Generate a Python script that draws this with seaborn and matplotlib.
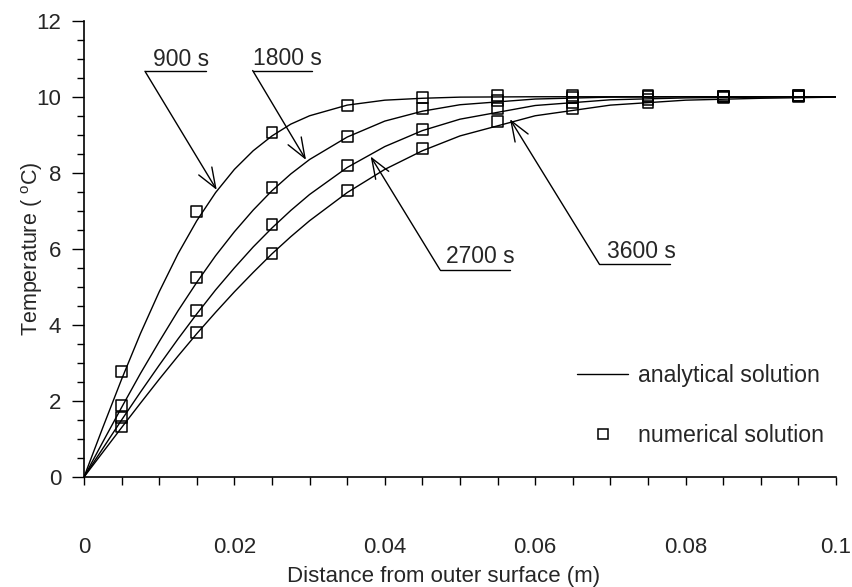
import numpy as np
import pandas as pd
import matplotlib
matplotlib.use("Agg")
import matplotlib.pyplot as plt
from matplotlib.lines import Line2D
from matplotlib.ticker import MultipleLocator, FixedLocator, FixedFormatter
import seaborn as sns

# Temperature profiles in a slab cooled at its outer surface
times = ["900 s", "1800 s", "2700 s", "3600 s"]

# analytical solution, sampled along the depth
x_curve = [0, 0.0025, 0.005, 0.0075, 0.01, 0.0125, 0.015, 0.0175, 0.02, 0.0225,
           0.025, 0.0275, 0.03, 0.035, 0.04, 0.045, 0.05, 0.06, 0.07, 0.08, 0.09, 0.1]
t900 = [0, 1.30, 2.57, 3.77, 4.87, 5.87, 6.74, 7.48, 8.09, 8.58, 8.97, 9.28, 9.50,
        9.78, 9.91, 9.96, 9.99, 10.0, 10.0, 10.0, 10.0, 10.0]
t1800 = [0, 0.92, 1.83, 2.72, 3.56, 4.37, 5.12, 5.82, 6.45, 7.02, 7.53, 7.97, 8.35,
         8.94, 9.36, 9.62, 9.79, 9.94, 9.99, 10.0, 10.0, 10.0]
t2700 = [0, 0.75, 1.50, 2.23, 2.94, 3.63, 4.29, 4.92, 5.50, 6.05, 6.55, 7.01, 7.43,
         8.14, 8.69, 9.11, 9.41, 9.77, 9.92, 9.97, 9.99, 10.0]
t3600 = [0, 0.65, 1.30, 1.94, 2.57, 3.18, 3.77, 4.33, 4.87, 5.38, 5.87, 6.32, 6.74,
         7.48, 8.09, 8.58, 8.97, 9.50, 9.78, 9.91, 9.96, 9.99]

# numerical solution at the cell centres
x_num = [0.005, 0.015, 0.025, 0.035, 0.045, 0.055, 0.065, 0.075, 0.085, 0.095]
n900 = [2.77, 6.98, 9.06, 9.77, 9.99, 10.04, 10.04, 10.04, 10.02, 10.03]
n1800 = [1.89, 5.25, 7.62, 8.96, 9.68, 9.90, 9.97, 10.00, 10.00, 10.03]
n2700 = [1.56, 4.37, 6.63, 8.18, 9.13, 9.70, 9.85, 9.93, 10.00, 10.02]
n3600 = [1.34, 3.81, 5.89, 7.53, 8.63, 9.35, 9.68, 9.85, 9.97, 10.00]

x_ticks = [0, 0.02, 0.04, 0.06, 0.08, 0.1]
x_tick_labels = ["0", "0.02", "0.04", "0.06", "0.08", "0.1"]
y_ticks = [0, 2, 4, 6, 8, 10, 12]

# callouts: label, arrow tip (x, T), leader start (x, T), underline end x, text anchor
callouts = [
    ("900 s", (0.01765, 7.55), (0.00811, 10.67), 0.01622, (0.00918, 10.80)),
    ("1800 s", (0.02952, 8.34), (0.02243, 10.69), 0.03028, (0.02251, 10.84)),
    ("2700 s", (0.03812, 8.43), (0.04734, 5.45), 0.05665, (0.04810, 5.62)),
    ("3600 s", (0.05665, 9.41), (0.06852, 5.60), 0.07793, (0.06950, 5.75)),
]

curves = pd.DataFrame({
    "x": np.tile(x_curve, 4),
    "T": np.concatenate([t900, t1800, t2700, t3600]),
    "time": np.repeat(times, len(x_curve)),
})
points = pd.DataFrame({
    "x": np.tile(x_num, 4),
    "T": np.concatenate([n900, n1800, n2700, n3600]),
    "time": np.repeat(times, len(x_num)),
})

sns.set_style("ticks")
plt.rcParams["font.family"] = ["Liberation Sans", "DejaVu Sans"]
plt.rcParams["mathtext.fontset"] = "custom"
plt.rcParams["mathtext.rm"] = "Liberation Sans"
plt.rcParams["mathtext.it"] = "Liberation Sans"

fig = plt.figure(figsize=(8.53, 5.87), dpi=100)
ax = fig.add_axes([84 / 853, 1 - 477 / 587, 752 / 853, 456.3 / 587])

sns.lineplot(data=curves, x="x", y="T", hue="time",
             palette={t: "black" for t in times}, estimator=None, sort=False,
             linewidth=1.0, legend=False, ax=ax)
sns.scatterplot(data=points, x="x", y="T", marker="s", s=62, color="black",
                linewidth=1.1, legend=False, ax=ax, zorder=3)
for coll in ax.collections:
    coll.set_facecolor("none")
    coll.set_edgecolor("black")

for label, tip, start, end_x, txt in callouts:
    ax.annotate("", xy=tip, xytext=start,
                arrowprops=dict(arrowstyle="->,head_length=1.45,head_width=0.55",
                                color="black", lw=1.0, shrinkA=0, shrinkB=0,
                                mutation_scale=10))
    ax.plot([start[0], end_x], [start[1], start[1]], color="black", lw=1.0)
    ax.text(txt[0], txt[1], label, fontsize=16.5, ha="left", va="baseline")

ax.set_xlim(0, 0.1)
ax.set_ylim(0, 12)
ax.xaxis.set_major_locator(FixedLocator(x_ticks))
ax.xaxis.set_major_formatter(FixedFormatter(x_tick_labels))
ax.xaxis.set_minor_locator(MultipleLocator(0.005))
ax.yaxis.set_major_locator(FixedLocator(y_ticks))
ax.yaxis.set_minor_locator(MultipleLocator(0.5))

ax.tick_params(axis="x", which="both", direction="out", length=6, width=1.0,
               color="black", labelsize=16, pad=37)
ax.tick_params(axis="y", which="major", direction="out", length=8.5, width=1.0,
               color="black", labelsize=16, pad=8)
ax.tick_params(axis="y", which="minor", direction="out", length=5, width=1.0,
               color="black")

ax.set_xlabel("Distance from outer surface (m)", fontsize=16, labelpad=6, x=0.478)
ax.set_ylabel(r"Temperature ( $^{\mathrm{o}}$C)", fontsize=15.5, labelpad=-6)

sns.despine(ax=ax)
for side in ("left", "bottom"):
    ax.spines[side].set_linewidth(1.2)
    ax.spines[side].set_color("black")

handles = [
    Line2D([], [], color="black", lw=1.0),
    Line2D([], [], ls="none", marker="s", ms=6.5, mfc="none", mec="black", mew=1.1),
]
ax.legend(handles, ["analytical solution", "numerical solution"],
          loc="upper left", bbox_to_anchor=(0.6556, 0.247), frameon=False,
          fontsize=16.7, handlelength=2.2, handletextpad=0.45, labelspacing=1.6,
          borderpad=0, borderaxespad=0, numpoints=1)

fig.savefig("out.png", dpi=100, facecolor="white")
